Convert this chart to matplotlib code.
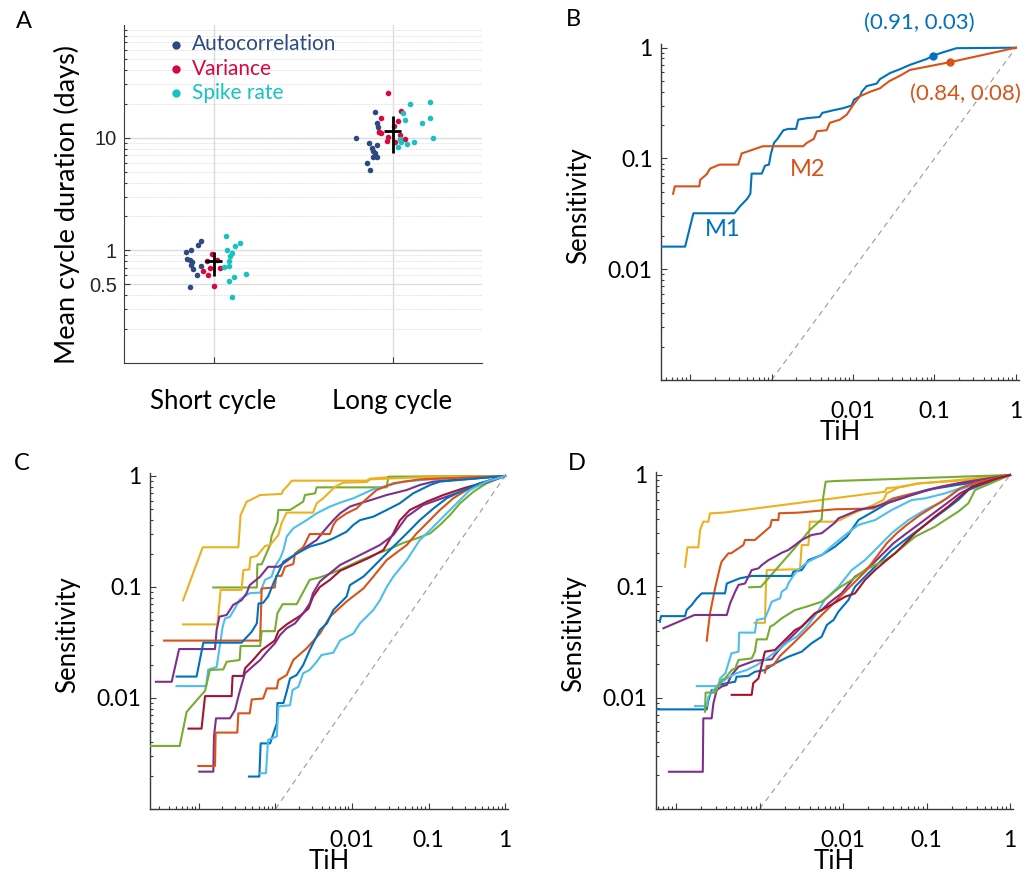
import matplotlib
matplotlib.use("Agg")
import matplotlib.pyplot as plt
from matplotlib.ticker import FixedLocator, FixedFormatter, LogLocator, NullFormatter

plt.rcParams['font.family'] = ['Lato', 'DejaVu Sans']

# ---------------- Panel A data ----------------
categories = ['Short cycle', 'Long cycle']
cat_pos = [1, 2]
series_names = ['Autocorrelation', 'Variance', 'Spike rate']
series_colors = ['#2E4A82', '#D8083E', '#17C2C2']

short_auto_x = [0.931, 0.915, 0.877, 0.846, 0.850, 0.868, 0.881, 0.877, 0.885, 0.928, 0.907, 0.870]
short_auto_y = [1.21, 1.11, 1.01, 0.968, 0.839, 0.822, 0.789, 0.746, 0.684, 0.731, 0.604, 0.475]
short_var_x = [0.993, 0.963, 1.019, 0.982, 0.944, 1.037, 0.972, 1.004]
short_var_y = [0.929, 0.81, 0.815, 0.698, 0.65, 0.698, 0.60, 0.479]
short_spike_x = [1.069, 1.149, 1.119, 1.078, 1.104, 1.093, 1.089, 1.089, 1.056, 1.115, 1.086, 1.182, 1.104]
short_spike_y = [1.35, 1.16, 1.09, 1.01, 0.954, 0.885, 0.81, 0.721, 0.706, 0.575, 0.538, 0.621, 0.388]
long_auto_x = [1.794, 1.900, 1.911, 1.920, 1.925, 1.870, 1.885, 1.911, 1.892, 1.889, 1.914, 1.858, 1.873, 1.900]
long_auto_y = [9.84, 17.0, 13.6, 12.4, 11.3, 9.01, 8.13, 8.65, 7.59, 6.76, 6.76, 5.98, 5.18, 7.24]
long_var_x = [1.976, 1.936, 2.050, 2.033, 1.925, 1.938, 2.007, 1.976, 1.970, 2.041, 2.069, 2.013]
long_var_y = [25.1, 15.0, 17.2, 14.0, 11.2, 11.1, 12.7, 10.2, 9.31, 10.5, 9.78, 9.12]
long_spike_x = [2.096, 2.208, 2.056, 2.069, 2.208, 2.167, 2.226, 2.041, 2.050, 2.119, 2.081, 2.030]
long_spike_y = [20.0, 20.7, 16.4, 14.3, 14.8, 13.4, 9.98, 9.78, 9.12, 9.19, 8.70, 8.24]
mean_cycle = [0.80, 11.4]
mean_low = [0.587, 7.34]
mean_high = [0.97, 15.5]

# ---------------- Panel B data ----------------
b_m1_x = [4.4e-5, 8.7e-5, 1.1e-4, 3.5e-4, 4.1e-4, 5.0e-4, 5.5e-4, 5.7e-4, 7.6e-4, 8.3e-4, 9.3e-4, 9.8e-4,
          1.07e-3, 1.18e-3, 1.40e-3, 1.61e-3, 2.0e-3, 2.13e-3, 2.7e-3, 3.9e-3, 4.2e-3, 5.7e-3, 7.5e-3, 9.6e-3,
          0.0103, 0.0122, 0.0128, 0.0147, 0.0195, 0.0214, 0.0284, 0.0378, 0.05, 0.080, 0.097, 0.128, 0.187, 1.0]
b_m1_y = [0.016, 0.016, 0.032, 0.032, 0.037, 0.043, 0.048, 0.073, 0.073, 0.086, 0.088, 0.109,
          0.138, 0.150, 0.18, 0.185, 0.185, 0.224, 0.231, 0.237, 0.258, 0.272, 0.284, 0.30,
          0.34, 0.365, 0.40, 0.45, 0.474, 0.52, 0.59, 0.64, 0.70, 0.79, 0.85, 0.91, 0.99, 1.0]
b_m2_x = [6.2e-5, 6.5e-5, 1.3e-4, 1.33e-4, 1.6e-4, 1.76e-4, 2.3e-4, 3.9e-4, 4.3e-4, 5.9e-4, 7.8e-4, 2.45e-3,
          2.7e-3, 3.3e-3, 3.6e-3, 4.75e-3, 5.2e-3, 6.9e-3, 8.4e-3, 0.0101, 0.0122, 0.0162, 0.0214, 0.028,
          0.038, 0.05, 0.155, 1.0]
b_m2_y = [0.048, 0.056, 0.056, 0.064, 0.072, 0.081, 0.088, 0.088, 0.111, 0.12, 0.129, 0.129,
          0.138, 0.150, 0.176, 0.18, 0.21, 0.224, 0.249, 0.306, 0.365, 0.40, 0.43, 0.50,
          0.56, 0.63, 0.74, 1.0]
b_m1_point = (0.097, 0.85)
b_m2_point = (0.155, 0.74)
b_m1_label = '(0.91, 0.03)'
b_m2_label = '(0.84, 0.08)'
chance_line = [1e-3, 1.0]

# ---------------- Panel C data ----------------
c_yellow1_x = [6.2e-5, 1.12e-4, 3.27e-4, 3.5e-4, 4.2e-4, 4.9e-4, 6.3e-4, 1.2e-3, 1.27e-3, 1.43e-3, 1.63e-3, 0.0156, 0.0172, 0.0284, 1.0]
c_yellow1_y = [0.076, 0.228, 0.228, 0.445, 0.587, 0.617, 0.674, 0.689, 0.748, 0.81, 0.908, 0.908, 0.946, 0.973, 1.0]
c_green1_x = [1.54e-4, 5.7e-4, 5.8e-4, 6.6e-4, 8.5e-4, 8.9e-4, 1.06e-3, 1.09e-3, 1.55e-3, 2.3e-3, 2.43e-3, 3.3e-3, 3.45e-3, 0.0284, 0.0299, 1.0]
c_green1_y = [0.099, 0.099, 0.16, 0.16, 0.239, 0.288, 0.388, 0.494, 0.494, 0.587, 0.674, 0.698, 0.79, 0.79, 0.986, 1.0]
c_yellow2_x = [6.2e-5, 1.74e-4, 1.92e-4, 3.6e-4, 3.8e-4, 4.55e-4, 4.7e-4, 5.7e-4, 7.3e-4, 8.5e-4, 1.09e-3, 1.2e-3, 1.4e-3,
               3.1e-3, 3.45e-3, 4.2e-3, 4.9e-3, 6.0e-3, 7.7e-3, 0.0156, 0.0172, 0.077, 1.0]
c_yellow2_y = [0.046, 0.046, 0.094, 0.094, 0.142, 0.144, 0.185, 0.19, 0.234, 0.239, 0.294, 0.375, 0.468,
               0.468, 0.567, 0.63, 0.698, 0.80, 0.87, 0.883, 0.933, 0.973, 1.0]
c_lblue1_x = [5.1e-5, 1.24e-4, 1.32e-4, 1.7e-4, 1.92e-4, 2.04e-4, 2.19e-4, 2.54e-4, 3.05e-4, 3.4e-4, 4.6e-4, 6.3e-4, 7.3e-4, 8.9e-4,
              9.8e-4, 1.15e-3, 1.27e-3, 1.4e-3, 1.71e-3, 2.55e-3, 3.45e-3, 5.15e-3, 7.0e-3, 0.0104, 0.019, 0.047, 0.105, 1.0]
c_lblue1_y = [0.0128, 0.0128, 0.018, 0.019, 0.033, 0.044, 0.052, 0.054, 0.067, 0.077, 0.088, 0.089, 0.116, 0.124,
              0.152, 0.181, 0.215, 0.284, 0.338, 0.40, 0.461, 0.53, 0.575, 0.63, 0.76, 0.89, 0.933, 1.0]
c_purple1_x = [2.74e-5, 4.4e-5, 5.5e-5, 1.62e-4, 1.7e-4, 1.85e-4, 2.3e-4, 2.8e-4, 3.6e-4, 4.2e-4, 4.6e-4, 6.3e-4, 8.0e-4, 1.09e-3,
               1.27e-3, 1.89e-3, 2.55e-3, 3.45e-3, 4.4e-3, 5.7e-3, 7.0e-3, 9.4e-3, 0.0127, 0.019, 0.0284, 0.052, 0.077, 0.116, 1.0]
c_purple1_y = [0.014, 0.014, 0.0276, 0.0276, 0.041, 0.054, 0.056, 0.069, 0.076, 0.088, 0.104, 0.124, 0.152, 0.152,
               0.163, 0.20, 0.231, 0.265, 0.326, 0.40, 0.461, 0.53, 0.567, 0.617, 0.674, 0.748, 0.83, 0.89, 1.0]
c_orange1_x = [3.5e-5, 6.3e-4, 6.6e-4, 9.8e-4, 1.02e-3, 1.2e-3, 1.33e-3, 1.71e-3, 1.8e-3, 2.3e-3, 2.8e-3, 5.15e-3, 5.7e-3, 6.3e-3,
               8.5e-3, 0.0115, 0.0141, 0.021, 0.0347, 0.077, 1.0]
c_orange1_y = [0.0329, 0.0329, 0.097, 0.099, 0.126, 0.126, 0.152, 0.161, 0.20, 0.228, 0.30, 0.30, 0.362, 0.40,
               0.461, 0.51, 0.587, 0.748, 0.86, 0.933, 1.0]
c_blue1_x = [5.1e-5, 9.3e-5, 1.14e-4, 3.6e-4, 4.9e-4, 5.7e-4, 6.0e-4, 6.9e-4, 8.0e-4, 9.4e-4, 1.27e-3, 1.89e-3, 2.8e-3,
             4.2e-3, 5.7e-3, 8.5e-3, 0.0104, 0.0127, 0.019, 0.0284, 0.042, 0.063, 0.105, 0.141, 1.0]
c_blue1_y = [0.0156, 0.0156, 0.0315, 0.0315, 0.0396, 0.047, 0.071, 0.072, 0.082, 0.108, 0.169, 0.20, 0.231,
             0.25, 0.274, 0.315, 0.362, 0.40, 0.43, 0.494, 0.567, 0.698, 0.83, 0.89, 1.0]
c_green2_x = [2.3e-5, 5.6e-5, 6.9e-5, 1.03e-4, 1.2e-4, 1.39e-4, 2.08e-4, 2.3e-4, 3.4e-4, 3.5e-4, 6.3e-4, 6.6e-4, 9.8e-4,
              1.06e-3, 1.24e-3, 1.89e-3, 2.2e-3, 2.8e-3, 3.8e-3, 5.7e-3, 8.5e-3, 0.0127, 0.019, 0.0284, 0.047, 0.07,
              0.105, 0.141, 0.191, 0.258, 0.385, 0.575, 1.0]
c_green2_y = [0.0037, 0.0037, 0.0075, 0.0103, 0.0116, 0.0179, 0.0181, 0.0212, 0.022, 0.0294, 0.0294, 0.040, 0.040,
              0.058, 0.070, 0.070, 0.085, 0.116, 0.122, 0.135, 0.152, 0.173, 0.194, 0.215, 0.25, 0.274,
              0.304, 0.362, 0.445, 0.567, 0.72, 0.86, 1.0]
c_red_x = [7.3e-5, 1.08e-4, 1.2e-4, 2.67e-4, 2.75e-4, 3.8e-4, 4.0e-4, 5.1e-4, 6.6e-4, 9.8e-4, 1.09e-3, 1.4e-3, 2.1e-3,
           2.7e-3, 3.1e-3, 3.8e-3, 5.15e-3, 7.0e-3, 0.0104, 0.0172, 0.0257, 0.0347, 0.042, 0.057, 0.095, 0.156, 0.285, 0.575, 1.0]
c_red_y = [0.0053, 0.0053, 0.0104, 0.0104, 0.0158, 0.0158, 0.0185, 0.022, 0.027, 0.033, 0.040, 0.046, 0.055,
           0.064, 0.082, 0.10, 0.116, 0.14, 0.158, 0.185, 0.215, 0.304, 0.396, 0.494, 0.587, 0.674, 0.774, 0.89, 1.0]
c_purple2_x = [1.01e-4, 1.54e-4, 1.57e-4, 1.67e-4, 2.54e-4, 2.96e-4, 3.27e-4, 3.6e-4, 4.0e-4, 5.1e-4, 6.3e-4, 7.7e-4, 9.8e-4,
               1.15e-3, 1.4e-3, 1.8e-3, 2.3e-3, 2.8e-3, 3.1e-3, 3.8e-3, 5.15e-3, 7.0e-3, 0.0104, 0.0156, 0.0232, 0.0347,
               0.052, 0.0855, 0.173, 0.348, 1.0]
c_purple2_y = [0.00217, 0.00217, 0.00449, 0.00656, 0.00656, 0.0078, 0.0103, 0.0131, 0.0167, 0.0194, 0.022, 0.026, 0.031,
               0.037, 0.0425, 0.047, 0.058, 0.071, 0.088, 0.112, 0.133, 0.158, 0.181, 0.208, 0.239, 0.294,
               0.43, 0.548, 0.652, 0.774, 1.0]
c_orange2_x = [9.8e-5, 1.62e-4, 1.65e-4, 3.17e-4, 3.27e-4, 4.6e-4, 4.9e-4, 6.9e-4, 7.7e-4, 1.04e-3, 1.09e-3, 1.4e-3, 1.71e-3,
               2.55e-3, 3.8e-3, 5.15e-3, 8.5e-3, 0.0141, 0.019, 0.0284, 0.052, 0.07, 0.095, 0.141, 0.211, 0.315, 0.471, 1.0]
c_orange2_y = [0.00244, 0.00244, 0.00488, 0.00488, 0.00728, 0.00728, 0.0097, 0.0099, 0.0122, 0.0122, 0.0145, 0.0161, 0.022,
               0.028, 0.038, 0.054, 0.074, 0.097, 0.124, 0.175, 0.239, 0.304, 0.375, 0.494, 0.63, 0.748, 0.86, 1.0]
c_blue2_x = [4.5e-4, 6.15e-4, 6.4e-4, 8.5e-4, 1.04e-3, 1.06e-3, 1.27e-3, 1.4e-3, 1.55e-3, 1.89e-3, 2.3e-3, 2.8e-3, 3.8e-3,
             4.7e-3, 5.7e-3, 8.5e-3, 9.4e-3, 0.0141, 0.019, 0.0257, 0.0347, 0.052, 0.077, 0.116, 0.173, 0.258, 0.471, 1.0]
c_blue2_y = [0.00196, 0.00196, 0.0039, 0.0039, 0.0059, 0.0090, 0.0090, 0.0114, 0.015, 0.0161, 0.0198, 0.027, 0.041,
             0.047, 0.062, 0.082, 0.104, 0.124, 0.152, 0.188, 0.231, 0.304, 0.40, 0.51, 0.63, 0.72, 0.86, 1.0]
c_lblue2_x = [6.3e-4, 7.5e-4, 8.0e-4, 1.04e-3, 1.09e-3, 1.55e-3, 1.67e-3, 1.99e-3, 2.3e-3, 2.8e-3, 3.45e-3, 4.0e-3, 5.7e-3,
              7.0e-3, 0.0104, 0.0127, 0.019, 0.0232, 0.0284, 0.0347, 0.052, 0.077, 0.105, 0.141, 0.191, 0.258, 0.348, 0.575, 1.0]
c_lblue2_y = [0.0021, 0.0021, 0.0042, 0.0045, 0.0084, 0.0086, 0.0118, 0.0126, 0.0167, 0.0179, 0.0212, 0.0244, 0.0256,
              0.033, 0.038, 0.047, 0.062, 0.076, 0.10, 0.124, 0.175, 0.265, 0.326, 0.40, 0.494, 0.608, 0.748, 0.89, 1.0]

# ---------------- Panel D data ----------------
d_yellow1_x = [1.28e-4, 1.37e-4, 1.85e-4, 1.94e-4, 2.12e-4, 2.44e-4, 2.55e-4, 3.7e-4, 0.0318, 0.0333, 0.0528, 0.0762, 0.252, 1.0]
d_yellow1_y = [0.150, 0.224, 0.224, 0.321, 0.381, 0.381, 0.453, 0.459, 0.708, 0.76, 0.785, 0.84, 0.89, 1.0]
d_yellow2_x = [8.7e-4, 1.16e-3, 1.19e-3, 1.22e-3, 2.43e-3, 3.05e-3, 3.2e-3, 3.85e-3, 4.0e-3, 7.7e-3, 9.2e-3, 0.0133, 0.023,
               0.0304, 0.0333, 0.0482, 0.0836, 0.23, 1.0]
d_yellow2_y = [0.047, 0.047, 0.098, 0.14, 0.142, 0.142, 0.235, 0.235, 0.381, 0.381, 0.394, 0.453, 0.538,
               0.596, 0.684, 0.785, 0.84, 0.90, 1.0]
d_green1_x = [7.5e-4, 1.04e-3, 3.2e-3, 4.0e-3, 5.55e-3, 5.8e-3, 6.2e-3, 8.0e-3, 1.0]
d_green1_y = [0.098, 0.099, 0.261, 0.321, 0.40, 0.639, 0.871, 0.883, 1.0]
d_orange1_x = [2.33e-4, 2.55e-4, 2.93e-4, 3.37e-4, 3.52e-4, 4.24e-4, 4.56e-4, 6.4e-4, 6.7e-4, 8.8e-4, 1.34e-3, 1.4e-3, 1.68e-3,
               1.71e-3, 2.92e-3, 8.0e-3, 0.023, 0.040, 0.0695, 0.145, 0.303, 1.0]
d_orange1_y = [0.0325, 0.0572, 0.096, 0.150, 0.167, 0.198, 0.198, 0.235, 0.261, 0.261, 0.343, 0.394, 0.394,
               0.453, 0.459, 0.492, 0.50, 0.617, 0.684, 0.785, 0.871, 1.0]
d_blue1_x = [6.4e-5, 6.6e-5, 1.28e-4, 1.34e-4, 1.54e-4, 1.77e-4, 2.03e-4, 3.86e-4, 4.05e-4, 5.8e-4, 8.05e-4, 2.43e-3, 2.54e-3,
             3.2e-3, 3.85e-3, 5.55e-3, 8.0e-3, 0.0111, 0.0153, 0.023, 0.0366, 0.0578, 0.10, 0.23, 0.437, 1.0]
d_blue1_y = [0.048, 0.054, 0.054, 0.0612, 0.068, 0.078, 0.0865, 0.0865, 0.106, 0.118, 0.124, 0.124, 0.1355,
             0.14, 0.172, 0.191, 0.227, 0.279, 0.394, 0.469, 0.575, 0.639, 0.733, 0.813, 0.871, 1.0]
d_purple1_x = [7.05e-5, 1.66e-4, 4.05e-4, 4.44e-4, 5.1e-4, 5.6e-4, 6.7e-4, 7.35e-4, 8.05e-4, 9.7e-4, 1.06e-3, 1.28e-3, 1.53e-3,
               1.84e-3, 2.21e-3, 2.66e-3, 3.2e-3, 4.2e-3, 5.55e-3, 8.0e-3, 8.8e-3, 0.0153, 0.0242, 0.0383, 0.0664, 0.126, 0.24, 1.0]
d_purple1_y = [0.042, 0.0553, 0.0553, 0.0703, 0.0895, 0.103, 0.106, 0.122, 0.14, 0.145, 0.155, 0.172, 0.185,
               0.20, 0.212, 0.235, 0.261, 0.289, 0.30, 0.373, 0.408, 0.485, 0.52, 0.575, 0.661, 0.76, 0.84, 1.0]
d_lblue1_x = [1.77e-4, 3.2e-4, 3.37e-4, 3.9e-4, 4.6e-4, 5.6e-4, 5.7e-4, 8.8e-4, 9.25e-4, 1.16e-3, 1.28e-3, 1.4e-3, 1.76e-3,
              1.84e-3, 2.11e-3, 2.21e-3, 2.66e-3, 3.2e-3, 3.85e-3, 5.55e-3, 8.0e-3, 0.0106, 0.0153, 0.0242, 0.0383, 0.0664,
              0.096, 0.167, 0.289, 0.502, 1.0]
d_lblue1_y = [0.0127, 0.0127, 0.0149, 0.0166, 0.025, 0.0259, 0.0384, 0.0384, 0.0499, 0.0516, 0.0612, 0.0728, 0.078,
              0.0895, 0.096, 0.106, 0.131, 0.150, 0.167, 0.191, 0.243, 0.289, 0.356, 0.394, 0.485, 0.596,
              0.617, 0.684, 0.785, 0.871, 1.0]
d_blue2_x = [5.75e-5, 2.33e-4, 2.44e-4, 2.67e-4, 3.07e-4, 3.2e-4, 4.05e-4, 5.1e-4, 5.3e-4, 7.35e-4, 8.8e-4, 1.16e-3, 1.53e-3,
             2.21e-3, 3.2e-3, 4.2e-3, 5.55e-3, 6.4e-3, 7.7e-3, 8.8e-3, 0.0116, 0.0139, 0.0167, 0.022, 0.029, 0.0383,
             0.0553, 0.0798, 0.115, 0.167, 0.24, 0.317, 0.502, 1.0]
d_blue2_y = [0.00785, 0.00785, 0.00953, 0.0117, 0.0117, 0.013, 0.0135, 0.0139, 0.0154, 0.0157, 0.0171, 0.0177, 0.0203,
             0.0233, 0.0259, 0.0308, 0.0353, 0.045, 0.0499, 0.0592, 0.0754, 0.099, 0.114, 0.14, 0.172, 0.212,
             0.261, 0.321, 0.394, 0.485, 0.596, 0.733, 0.84, 1.0]
d_purple2_x = [8.2e-5, 2.09e-4, 2.12e-4, 2.67e-4, 2.8e-4, 3.07e-4, 3.52e-4, 4.05e-4, 4.64e-4, 5.6e-4, 8.8e-4, 1.4e-3, 1.53e-3,
               1.84e-3, 2.21e-3, 2.66e-3, 3.2e-3, 3.85e-3, 4.62e-3, 5.55e-3, 6.7e-3, 8.0e-3, 9.6e-3, 0.0139, 0.0175, 0.023,
               0.0304, 0.040, 0.0578, 0.0836, 0.121, 0.175, 0.252, 0.364, 0.575, 1.0]
d_purple2_y = [0.00216, 0.00216, 0.00652, 0.00652, 0.00889, 0.0117, 0.0126, 0.013, 0.016, 0.019, 0.0215, 0.0221, 0.0242,
               0.0287, 0.033, 0.0378, 0.0434, 0.0499, 0.0572, 0.0612, 0.0703, 0.078, 0.0865, 0.122, 0.1355, 0.161,
               0.198, 0.243, 0.30, 0.368, 0.453, 0.557, 0.684, 0.785, 0.871, 1.0]
d_lblue2_x = [1.69e-4, 2.33e-4, 2.44e-4, 2.8e-4, 3.37e-4, 4.05e-4, 5.3e-4, 7.0e-4, 9.25e-4, 1.22e-3, 1.76e-3, 2.21e-3, 2.79e-3,
              3.67e-3, 4.84e-3, 6.1e-3, 8.8e-3, 0.0127, 0.0183, 0.0265, 0.0383, 0.0605, 0.096, 0.152, 0.24, 0.48, 1.0]
d_lblue2_y = [0.0084, 0.0084, 0.0102, 0.0117, 0.0135, 0.0149, 0.0166, 0.0177, 0.0196, 0.0225, 0.0277, 0.0318, 0.0353,
              0.0434, 0.0572, 0.0764, 0.099, 0.14, 0.172, 0.227, 0.30, 0.394, 0.485, 0.575, 0.733, 0.871, 1.0]
d_green2_x = [2.22e-4, 2.26e-4, 2.93e-4, 3.52e-4, 3.86e-4, 4.64e-4, 5.1e-4, 5.6e-4, 8.05e-4, 8.8e-4, 9.25e-4, 1.22e-3, 1.34e-3,
              1.47e-3, 1.84e-3, 2.66e-3, 3.85e-3, 5.55e-3, 6.7e-3, 8.8e-3, 0.0127, 0.0183, 0.0318, 0.042, 0.0553, 0.0728,
              0.096, 0.126, 0.167, 0.24, 0.317, 0.381, 1.0]
d_green2_y = [0.00748, 0.0111, 0.0111, 0.0144, 0.0149, 0.0177, 0.0183, 0.0218, 0.0225, 0.0259, 0.0334, 0.0334, 0.0434,
              0.045, 0.0516, 0.0612, 0.0665, 0.0728, 0.0807, 0.096, 0.114, 0.14, 0.172, 0.198, 0.235, 0.279,
              0.31, 0.343, 0.394, 0.469, 0.557, 0.733, 1.0]
d_orange2_x = [1.16e-3, 1.22e-3, 1.47e-3, 1.76e-3, 2.54e-3, 3.67e-3, 5.3e-3, 7.7e-3, 0.0111, 0.0146, 0.0192, 0.0253, 0.0333,
               0.044, 0.0578, 0.0836, 0.121, 0.175, 0.252, 0.364, 1.0]
d_orange2_y = [0.0168, 0.0192, 0.0196, 0.0237, 0.0308, 0.0405, 0.0534, 0.0703, 0.0927, 0.114, 0.14, 0.185, 0.243,
               0.30, 0.356, 0.437, 0.52, 0.617, 0.76, 0.84, 1.0]
d_red_x = [4.64e-4, 8.05e-4, 8.4e-4, 9.7e-4, 1.16e-3, 1.53e-3, 1.84e-3, 2.21e-3, 2.66e-3, 3.2e-3, 3.85e-3, 4.62e-3, 5.55e-3,
           8.0e-3, 0.0106, 0.0139, 0.0183, 0.0242, 0.0318, 0.042, 0.0553, 0.0728, 0.096, 0.126, 0.182, 0.264, 0.348, 0.603, 1.0]
d_red_y = [0.0106, 0.0106, 0.0135, 0.0149, 0.0259, 0.0268, 0.0308, 0.0353, 0.0405, 0.0434, 0.0499, 0.0572, 0.0612,
           0.0713, 0.0807, 0.0865, 0.114, 0.14, 0.167, 0.198, 0.243, 0.30, 0.356, 0.423, 0.52, 0.661, 0.785, 0.90, 1.0]

# ---------------- styling ----------------
BLUE, ORANGE, YELLOW, PURPLE = '#0072BD', '#D95319', '#EDB120', '#7E2F8E'
GREEN, LBLUE, DRED = '#77AC30', '#4DBEEE', '#A2142F'
SPINE = '#3a3a3a'

W, H = 1025, 880
fig = plt.figure(figsize=(W / 100, H / 100), dpi=100)


def px_axes(l, t, r, b):
    return fig.add_axes([l / W, 1 - b / H, (r - l) / W, (b - t) / H])


def roc_style(ax, xlim, ylim):
    ax.set_xscale('log')
    ax.set_yscale('log')
    ax.set_xlim(*xlim)
    ax.set_ylim(*ylim)
    for s in ['top', 'right']:
        ax.spines[s].set_visible(False)
    for s in ['left', 'bottom']:
        ax.spines[s].set_color(SPINE)
        ax.spines[s].set_linewidth(1.0)
    ax.xaxis.set_major_locator(FixedLocator([1e-4, 1e-3, 1e-2, 1e-1, 1]))
    ax.xaxis.set_major_formatter(FixedFormatter(['', '', '0.01', '0.1', '1']))
    ax.xaxis.set_minor_locator(LogLocator(base=10, subs=range(2, 10)))
    ax.xaxis.set_minor_formatter(NullFormatter())
    ax.yaxis.set_major_locator(FixedLocator([1e-3, 1e-2, 1e-1, 1]))
    ax.yaxis.set_major_formatter(FixedFormatter(['', '0.01', '0.1', '1']))
    ax.yaxis.set_minor_locator(LogLocator(base=10, subs=range(2, 10)))
    ax.yaxis.set_minor_formatter(NullFormatter())
    ax.tick_params(which='both', direction='in', color=SPINE, width=0.8, labelsize=16.5)
    ax.tick_params(which='major', length=4)
    ax.tick_params(which='minor', length=2.5)
    ax.tick_params(axis='x', which='major', pad=15)
    ax.tick_params(axis='y', which='major', pad=6)
    ax.set_xlabel('TiH', fontsize=18.5, labelpad=-1)
    ax.set_ylabel('Sensitivity', fontsize=18.5)
    ax.yaxis.set_label_coords(-0.195, 0.52)
    ax.plot(chance_line, chance_line, color='#9a9a9a', lw=0.8, ls=(0, (5, 4)), zorder=1)


# ---------------- Panel A ----------------
axA = px_axes(124, 25, 482, 363)
axA.set_yscale('log')
axA.set_ylim(0.1, 100)
axA.set_xlim(0.5, 2.5)
for s in ['top', 'right']:
    axA.spines[s].set_visible(False)
for s in ['left', 'bottom']:
    axA.spines[s].set_color(SPINE)
axA.set_yticks([0.5, 1, 10])
axA.set_yticklabels(['0.5', '1', '10'], fontsize=14.5, family=['Liberation Sans', 'DejaVu Sans'], color='#262626')
axA.yaxis.set_minor_locator(LogLocator(base=10, subs=range(2, 10)))
axA.yaxis.set_minor_formatter(NullFormatter())
axA.set_xticks(cat_pos)
axA.set_xticklabels(categories, fontsize=18.5)
axA.tick_params(which='both', direction='in', color=SPINE, width=0.8)
axA.tick_params(which='major', length=4)
axA.tick_params(which='minor', length=2.5)
axA.tick_params(axis='x', pad=19)
axA.tick_params(axis='y', pad=5)
axA.grid(True, which='major', color='#dcdcdc', lw=1.0)
axA.grid(True, which='minor', axis='y', color='#dedede', lw=0.7, ls=(0, (1.5, 1.5)))
axA.set_axisbelow(True)
axA.set_ylabel('Mean cycle duration (days)', fontsize=19.5)
axA.yaxis.set_label_coords(-0.123, 0.47)

dot_sets = [
    (short_auto_x + long_auto_x, short_auto_y + long_auto_y),
    (short_var_x + long_var_x, short_var_y + long_var_y),
    (short_spike_x + long_spike_x, short_spike_y + long_spike_y),
]
handles = []
for (xs, ys), name, col in zip(dot_sets, series_names, series_colors):
    h = axA.scatter(xs, ys, s=16, color=col, label=name, zorder=3, linewidths=0)
    handles.append(h)
yerr = [[m - lo for m, lo in zip(mean_cycle, mean_low)], [hi - m for m, hi in zip(mean_cycle, mean_high)]]
axA.errorbar(cat_pos, mean_cycle, yerr=yerr, xerr=0.045, fmt='none', ecolor='black', elinewidth=2.0,
             capsize=0, zorder=4)
leg = axA.legend(handles=handles, loc='upper left', bbox_to_anchor=(0.128, 0.972), frameon=False,
                 fontsize=15, labelspacing=0.2, handlelength=0.6, handletextpad=0.45, borderpad=0,
                 borderaxespad=0, markerscale=1.5, labelcolor=series_colors)

# ---------------- Panel B ----------------
axB = px_axes(661, 44, 1019, 380)
roc_style(axB, (4.4e-5, 1.09), (1e-3, 1.08))
axB.plot(b_m1_x, b_m1_y, color=BLUE, lw=1.5, zorder=3)
axB.plot(b_m2_x, b_m2_y, color=ORANGE, lw=1.5, zorder=3)
axB.plot(*b_m1_point, 'o', color=BLUE, ms=5, zorder=4)
axB.plot(*b_m2_point, 'o', color=ORANGE, ms=5, zorder=4)
axB.text(2.5e-4, 0.023, 'M1', color=BLUE, fontsize=17, ha='center', va='center')
axB.text(2.8e-3, 0.08, 'M2', color=ORANGE, fontsize=17, ha='center', va='center')
axB.text(0.066, 1.68, b_m1_label, color=BLUE, fontsize=16, ha='center', va='center', clip_on=False)
axB.text(0.24, 0.38, b_m2_label, color=ORANGE, fontsize=16, ha='center', va='center', clip_on=False)

# ---------------- Panel C ----------------
axC = px_axes(150, 473, 508, 809)
roc_style(axC, (2.29e-5, 1.094), (1e-3, 1.064))
c_curves = [
    (c_yellow1_x, c_yellow1_y, YELLOW), (c_green1_x, c_green1_y, GREEN), (c_yellow2_x, c_yellow2_y, YELLOW),
    (c_lblue1_x, c_lblue1_y, LBLUE), (c_purple1_x, c_purple1_y, PURPLE), (c_orange1_x, c_orange1_y, ORANGE),
    (c_blue1_x, c_blue1_y, BLUE), (c_green2_x, c_green2_y, GREEN), (c_red_x, c_red_y, DRED),
    (c_purple2_x, c_purple2_y, PURPLE), (c_orange2_x, c_orange2_y, ORANGE), (c_blue2_x, c_blue2_y, BLUE),
    (c_lblue2_x, c_lblue2_y, LBLUE),
]
for xs, ys, col in c_curves:
    axC.plot(xs, ys, color=col, lw=1.5, zorder=3)

# ---------------- Panel D ----------------
axD = px_axes(656, 472, 1013, 809)
roc_style(axD, (5.75e-5, 1.086), (1e-3, 1.064))
d_curves = [
    (d_yellow1_x, d_yellow1_y, YELLOW), (d_yellow2_x, d_yellow2_y, YELLOW), (d_green1_x, d_green1_y, GREEN),
    (d_orange1_x, d_orange1_y, ORANGE), (d_blue1_x, d_blue1_y, BLUE), (d_purple1_x, d_purple1_y, PURPLE),
    (d_lblue1_x, d_lblue1_y, LBLUE), (d_blue2_x, d_blue2_y, BLUE), (d_purple2_x, d_purple2_y, PURPLE),
    (d_lblue2_x, d_lblue2_y, LBLUE), (d_green2_x, d_green2_y, GREEN), (d_orange2_x, d_orange2_y, ORANGE),
    (d_red_x, d_red_y, DRED),
]
for xs, ys, col in d_curves:
    axD.plot(xs, ys, color=col, lw=1.5, zorder=3)

# ---------------- panel letters ----------------
for letter, (px, py) in zip('ABCD', [(24, 21), (573, 20), (22, 463), (577, 463)]):
    fig.text(px / W, 1 - py / H, letter, fontsize=17, ha='center', va='center')

fig.savefig('out.png', dpi=100)
